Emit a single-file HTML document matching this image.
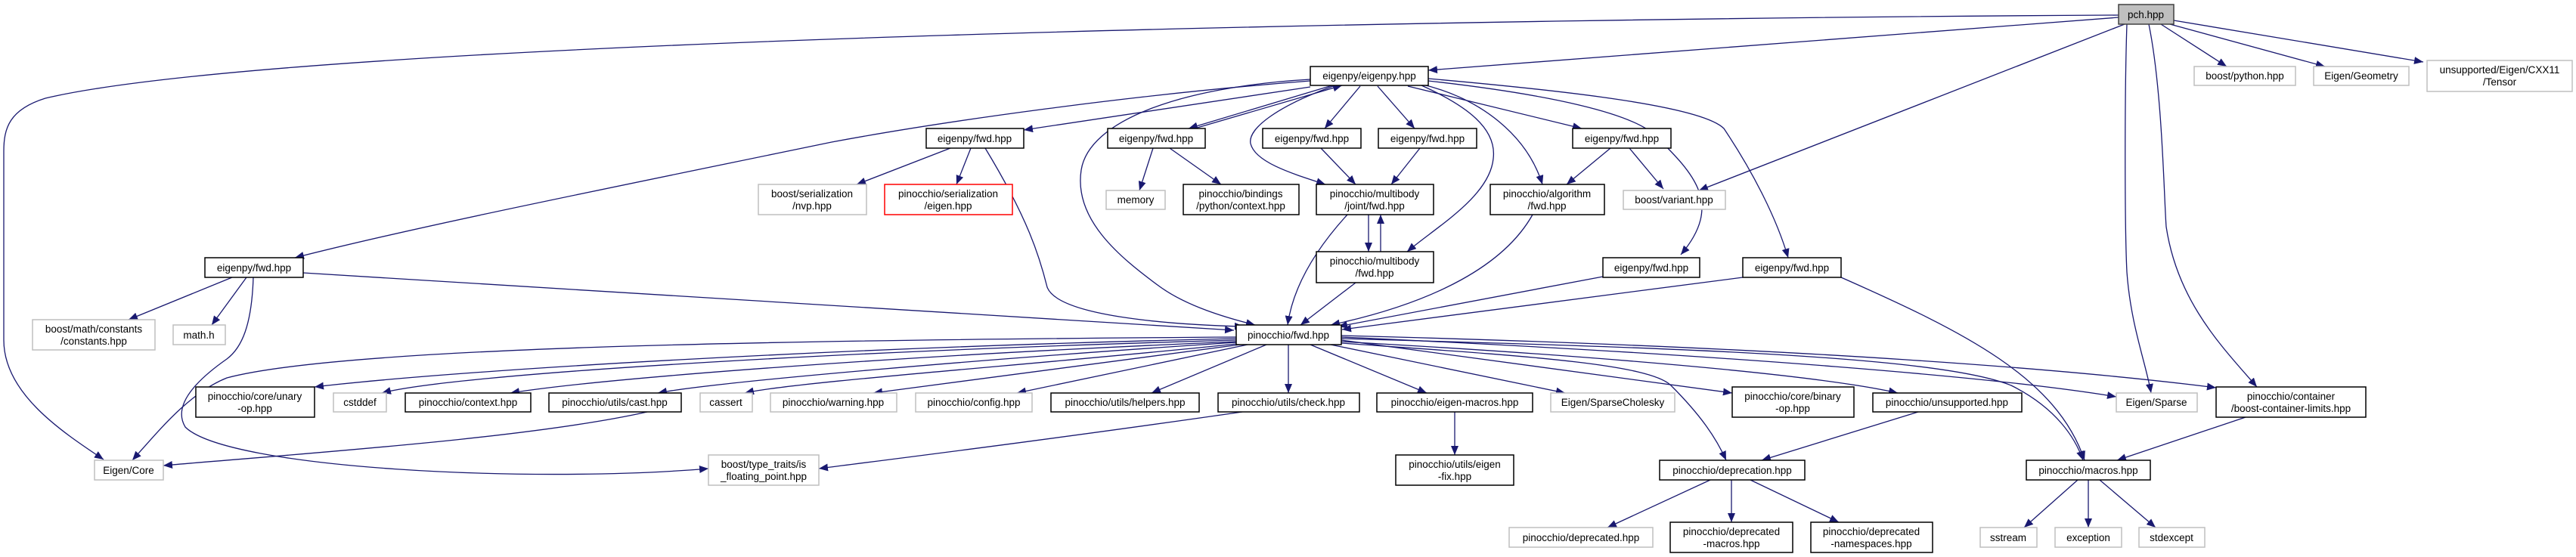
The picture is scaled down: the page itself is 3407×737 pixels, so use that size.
<!DOCTYPE html>
<html><head><meta charset="utf-8"><style>
html,body{margin:0;padding:0;background:#fff;}
svg{display:block;}
text{font-family:"Liberation Sans","DejaVu Sans",sans-serif;font-size:13.5px;fill:#000;text-anchor:middle;}
.i{fill:#fff;stroke:#000;stroke-width:1.5;}
.x{fill:#fff;stroke:#bfbfbf;stroke-width:1.5;}
.r{fill:#fff;stroke:#ff0000;stroke-width:1.5;}
.p{fill:#bfbfbf;stroke:#404040;stroke-width:1.5;}
.e{fill:none;stroke:#191970;stroke-width:1.3;marker-end:url(#a);}
</style></head><body>
<svg width="3407" height="737" viewBox="0 0 3407 737" xmlns="http://www.w3.org/2000/svg">
<defs><marker id="a" markerUnits="userSpaceOnUse" markerWidth="12" markerHeight="10" refX="12" refY="5" orient="auto"><path d="M0,0 L12,5 L0,10 z" fill="#191970"/></marker></defs>

<!-- edges from pch -->
<path class="e" d="M2802,20 C2000,24 400,50 60,130 C12,145 5,170 5,200 L5,450 C5,520 80,570 137,608"/>
<path class="e" d="M2802,23 L1889,93"/>
<path class="e" d="M2810,32 L2247,252"/>
<path class="e" d="M2813,32 C2810,120 2810,300 2813,360 C2818,430 2838,480 2845,520"/>
<path class="e" d="M2842,32 C2860,120 2862,260 2865,300 C2880,400 2940,460 2985,512"/>
<path class="e" d="M2858,32 L2945,88"/>
<path class="e" d="M2870,32 L3075,88"/>
<path class="e" d="M2875,27 L3205,82"/>

<!-- eigenpy.hpp edges -->
<path class="e" d="M1733,115 L1354,172"/>
<path class="e" d="M1733,107 C1500,125 1250,160 1100,188 C800,250 550,300 390,341"/>
<path class="e" d="M1762,113 L1572,170"/>
<path class="e" d="M1580,170 L1775,113"/>
<path class="e" d="M1799,114 L1752,170"/>
<path class="e" d="M1822,114 L1871,170"/>
<path class="e" d="M1862,114 L2092,170"/>
<path class="e" d="M1733,105 C1560,115 1440,160 1430,225 C1420,290 1480,340 1535,380 C1570,405 1620,420 1660,430"/>
<path class="e" d="M1766,113 C1690,140 1650,170 1654,190 C1660,215 1710,230 1753,244"/>
<path class="e" d="M1880,113 C1940,140 1980,170 1975,210 C1970,260 1900,300 1861,333"/>
<path class="e" d="M1878,111 C1960,130 2020,180 2040,244"/>
<path class="e" d="M1889,107 C2050,125 2160,150 2190,180 C2240,230 2280,270 2223,337"/>
<path class="e" d="M1889,104 C2070,120 2250,140 2280,170 C2320,230 2350,290 2365,341"/>
<path class="e" d="M2130,196 L2072,244"/>
<path class="e" d="M2155,196 L2200,250"/>
<path class="e" d="M1525,196 L1507,252"/>
<path class="e" d="M1547,196 L1615,244"/>
<path class="e" d="M1747,196 L1793,244"/>
<path class="e" d="M1878,196 L1840,244"/>
<path class="e" d="M1810,284 L1810,333"/>
<path class="e" d="M1826,333 L1826,284"/>
<path class="e" d="M1782,284 C1740,330 1710,380 1703,430"/>
<path class="e" d="M1793,374 L1720,430"/>
<path class="e" d="M2027,284 C1990,350 1900,400 1760,430"/>
<path class="e" d="M2120,366 L1770,432"/>
<path class="e" d="M2305,367 L1775,436"/>
<path class="e" d="M2435,367 C2600,440 2720,500 2757,609"/>
<path class="e" d="M1257,196 L1133,244"/>
<path class="e" d="M1284,196 L1265,244"/>
<path class="e" d="M1303,196 C1360,290 1375,340 1385,380 C1400,420 1560,430 1645,432"/>

<!-- H edges -->
<path class="e" d="M401,361 L1632,437"/>
<path class="e" d="M307,367 L170,423"/>
<path class="e" d="M326,367 L280,430"/>
<path class="e" d="M335,367 C333,430 320,460 300,475 C250,510 230,540 245,565 C300,620 700,640 937,620"/>

<!-- pinocchio/fwd edges -->
<path class="e" d="M1635,446 C1000,450 450,460 300,500 C250,520 210,570 175,609"/>
<path class="e" d="M1635,448 C1100,460 600,490 416,512"/>
<path class="e" d="M1635,450 C1100,465 600,495 505,520"/>
<path class="e" d="M1635,452 C1200,470 800,500 675,520"/>
<path class="e" d="M1635,453 C1300,475 950,505 870,520"/>
<path class="e" d="M1635,455 C1400,480 1050,505 985,520"/>
<path class="e" d="M1640,456 L1155,520"/>
<path class="e" d="M1650,456 L1345,520"/>
<path class="e" d="M1675,456 L1523,520"/>
<path class="e" d="M1704,456 L1704,520"/>
<path class="e" d="M1733,456 L1887,520"/>
<path class="e" d="M1760,456 L2070,520"/>
<path class="e" d="M1774,450 L2291,520"/>
<path class="e" d="M1774,452 C2100,470 2400,495 2510,520"/>
<path class="e" d="M1774,446 C2300,470 2650,500 2799,525"/>
<path class="e" d="M1774,444 C2400,460 2750,490 2931,513"/>
<path class="e" d="M1774,454 C2000,470 2180,480 2210,510 C2250,550 2270,580 2283,609"/>
<path class="e" d="M1774,448 C2200,460 2560,470 2660,510 C2720,540 2745,580 2755,609"/>
<path class="e" d="M1643,545 C1400,580 1200,605 1083,620"/>
<path class="e" d="M856,545 C700,580 400,600 216,616"/>
<path class="e" d="M1924,545 L1924,602"/>
<path class="e" d="M2537,545 L2330,609"/>
<path class="e" d="M2970,552 L2800,609"/>
<path class="e" d="M2262,635 L2126,698"/>
<path class="e" d="M2290,635 L2290,691"/>
<path class="e" d="M2315,635 L2432,691"/>
<path class="e" d="M2748,635 L2677,698"/>
<path class="e" d="M2762,635 L2762,698"/>
<path class="e" d="M2777,635 L2851,698"/>

<!-- nodes -->
<rect class="p" x="2802" y="6" width="73" height="26"/><text x="2838" y="24">pch.hpp</text>
<rect class="i" x="1733" y="88" width="156" height="25"/><text x="1811" y="105">eigenpy/eigenpy.hpp</text>
<rect class="x" x="2902" y="88" width="134" height="25"/><text x="2969" y="105">boost/python.hpp</text>
<rect class="x" x="3060" y="88" width="126" height="25"/><text x="3123" y="105">Eigen/Geometry</text>
<rect class="x" x="3210" y="80" width="192" height="41"/><text x="3306" y="97">unsupported/Eigen/CXX11</text><text x="3306" y="113">/Tensor</text>

<rect class="i" x="1225" y="170" width="129" height="26"/><text x="1289" y="188">eigenpy/fwd.hpp</text>
<rect class="i" x="1465" y="170" width="129" height="26"/><text x="1529" y="188">eigenpy/fwd.hpp</text>
<rect class="i" x="1670" y="170" width="130" height="26"/><text x="1735" y="188">eigenpy/fwd.hpp</text>
<rect class="i" x="1823" y="170" width="130" height="26"/><text x="1888" y="188">eigenpy/fwd.hpp</text>
<rect class="i" x="2080" y="170" width="130" height="26"/><text x="2145" y="188">eigenpy/fwd.hpp</text>

<rect class="x" x="1003" y="244" width="143" height="40"/><text x="1074" y="261">boost/serialization</text><text x="1074" y="277">/nvp.hpp</text>
<rect class="r" x="1170" y="244" width="169" height="40"/><text x="1254" y="261">pinocchio/serialization</text><text x="1254" y="277">/eigen.hpp</text>
<rect class="x" x="1463" y="252" width="78" height="25"/><text x="1502" y="269">memory</text>
<rect class="i" x="1565" y="244" width="153" height="40"/><text x="1641" y="261">pinocchio/bindings</text><text x="1641" y="277">/python/context.hpp</text>
<rect class="i" x="1741" y="244" width="155" height="40"/><text x="1818" y="261">pinocchio/multibody</text><text x="1818" y="277">/joint/fwd.hpp</text>
<rect class="i" x="1971" y="244" width="151" height="40"/><text x="2046" y="261">pinocchio/algorithm</text><text x="2046" y="277">/fwd.hpp</text>
<rect class="x" x="2147" y="252" width="135" height="25"/><text x="2214" y="269">boost/variant.hpp</text>

<rect class="i" x="1741" y="333" width="155" height="41"/><text x="1818" y="350">pinocchio/multibody</text><text x="1818" y="366">/fwd.hpp</text>
<rect class="i" x="271" y="341" width="130" height="26"/><text x="336" y="359">eigenpy/fwd.hpp</text>
<rect class="i" x="2120" y="341" width="128" height="26"/><text x="2184" y="359">eigenpy/fwd.hpp</text>
<rect class="i" x="2305" y="341" width="130" height="26"/><text x="2370" y="359">eigenpy/fwd.hpp</text>

<rect class="x" x="43" y="423" width="162" height="40"/><text x="124" y="440">boost/math/constants</text><text x="124" y="456">/constants.hpp</text>
<rect class="x" x="229" y="430" width="69" height="26"/><text x="263" y="448">math.h</text>
<rect class="i" x="1635" y="430" width="139" height="26"/><text x="1704" y="448">pinocchio/fwd.hpp</text>

<rect class="i" x="259" y="512" width="157" height="40"/><text x="337" y="529">pinocchio/core/unary</text><text x="337" y="545">-op.hpp</text>
<rect class="x" x="441" y="520" width="70" height="25"/><text x="476" y="537">cstddef</text>
<rect class="i" x="536" y="520" width="166" height="25"/><text x="619" y="537">pinocchio/context.hpp</text>
<rect class="i" x="726" y="520" width="175" height="25"/><text x="813" y="537">pinocchio/utils/cast.hpp</text>
<rect class="x" x="926" y="520" width="69" height="25"/><text x="960" y="537">cassert</text>
<rect class="x" x="1019" y="520" width="167" height="25"/><text x="1102" y="537">pinocchio/warning.hpp</text>
<rect class="x" x="1211" y="520" width="154" height="25"/><text x="1288" y="537">pinocchio/config.hpp</text>
<rect class="i" x="1390" y="520" width="196" height="25"/><text x="1488" y="537">pinocchio/utils/helpers.hpp</text>
<rect class="i" x="1611" y="520" width="187" height="25"/><text x="1704" y="537">pinocchio/utils/check.hpp</text>
<rect class="i" x="1821" y="520" width="206" height="25"/><text x="1924" y="537">pinocchio/eigen-macros.hpp</text>
<rect class="x" x="2051" y="520" width="164" height="25"/><text x="2133" y="537">Eigen/SparseCholesky</text>
<rect class="i" x="2291" y="512" width="161" height="40"/><text x="2371" y="529">pinocchio/core/binary</text><text x="2371" y="545">-op.hpp</text>
<rect class="i" x="2477" y="520" width="197" height="25"/><text x="2575" y="537">pinocchio/unsupported.hpp</text>
<rect class="x" x="2799" y="520" width="107" height="25"/><text x="2852" y="537">Eigen/Sparse</text>
<rect class="i" x="2931" y="512" width="198" height="40"/><text x="3030" y="529">pinocchio/container</text><text x="3030" y="545">/boost-container-limits.hpp</text>

<rect class="x" x="125" y="609" width="91" height="26"/><text x="170" y="627">Eigen/Core</text>
<rect class="x" x="937" y="602" width="146" height="40"/><text x="1010" y="619">boost/type_traits/is</text><text x="1010" y="635">_floating_point.hpp</text>
<rect class="i" x="1846" y="602" width="156" height="40"/><text x="1924" y="619">pinocchio/utils/eigen</text><text x="1924" y="635">-fix.hpp</text>
<rect class="i" x="2195" y="609" width="192" height="26"/><text x="2291" y="627">pinocchio/deprecation.hpp</text>
<rect class="i" x="2680" y="609" width="164" height="26"/><text x="2762" y="627">pinocchio/macros.hpp</text>

<rect class="x" x="1996" y="698" width="190" height="26"/><text x="2091" y="716">pinocchio/deprecated.hpp</text>
<rect class="i" x="2209" y="691" width="162" height="40"/><text x="2290" y="708">pinocchio/deprecated</text><text x="2290" y="724">-macros.hpp</text>
<rect class="i" x="2395" y="691" width="161" height="40"/><text x="2475" y="708">pinocchio/deprecated</text><text x="2475" y="724">-namespaces.hpp</text>
<rect class="x" x="2619" y="698" width="75" height="26"/><text x="2656" y="716">sstream</text>
<rect class="x" x="2718" y="698" width="88" height="26"/><text x="2762" y="716">exception</text>
<rect class="x" x="2829" y="698" width="87" height="26"/><text x="2872" y="716">stdexcept</text>
</svg>
</body></html>
